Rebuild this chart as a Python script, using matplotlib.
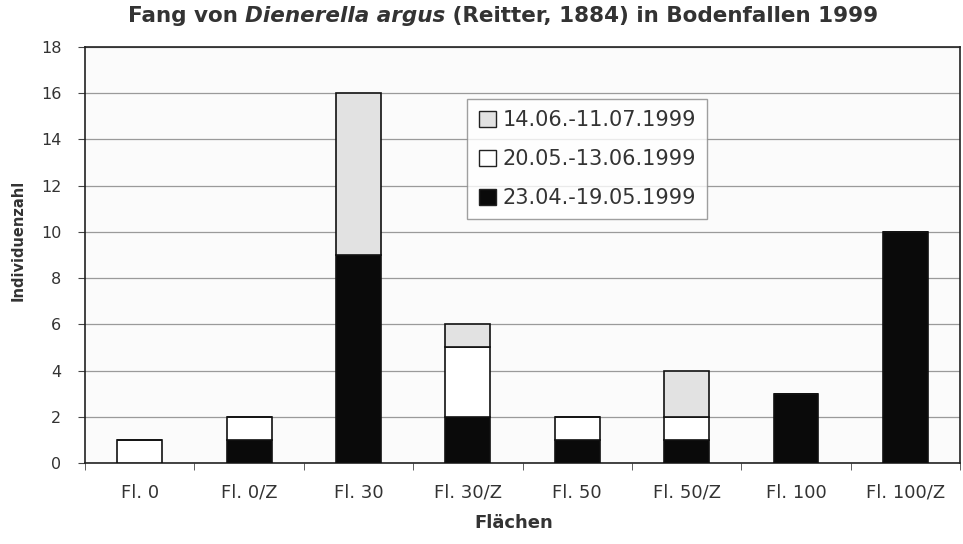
import matplotlib
matplotlib.use("Agg")
import matplotlib.pyplot as plt
from matplotlib.patches import Patch
import numpy as np

plt.rcParams['font.family'] = ['DejaVu Sans']

categories = ["Fl. 0", "Fl. 0/Z", "Fl. 30", "Fl. 30/Z", "Fl. 50", "Fl. 50/Z", "Fl. 100", "Fl. 100/Z"]
period1 = [0, 1, 9, 2, 1, 1, 3, 10]   # 23.04.-19.05.1999
period2 = [1, 1, 0, 3, 1, 1, 0, 0]    # 20.05.-13.06.1999
period3 = [0, 0, 7, 1, 0, 2, 0, 0]    # 14.06.-11.07.1999
labels = ["23.04.-19.05.1999", "20.05.-13.06.1999", "14.06.-11.07.1999"]
yticks = [0, 2, 4, 6, 8, 10, 12, 14, 16, 18]

fig = plt.figure(figsize=(9.63, 5.44), dpi=100)
ax = fig.add_axes([0.0883, 0.149, 0.9087, 0.7646])
ax.set_facecolor("#fbfbfb")

x = np.arange(len(categories))
w = 0.41
p1 = np.array(period1)
p2 = np.array(period2)
p3 = np.array(period3)
colors = ["#0a0a0a", "#ffffff", "#e2e2e2"]

ax.bar(x, p1, w, color=colors[0], edgecolor="#111111", linewidth=1.2, zorder=3)
ax.bar(x, p2, w, bottom=p1, color=colors[1], edgecolor="#111111", linewidth=1.2, zorder=3)
ax.bar(x, p3, w, bottom=p1 + p2, color=colors[2], edgecolor="#111111", linewidth=1.2, zorder=3)

ax.set_xlim(-0.5, len(categories) - 0.5)
ax.set_ylim(0, 18)
ax.set_yticks(yticks)
ax.set_yticklabels([str(v) for v in yticks], fontsize=11.5, color="#333333")
ax.set_xticks(x)
ax.set_xticklabels(categories, fontsize=13, color="#333333")
ax.set_xticks(np.arange(len(categories) + 1) - 0.5, minor=True)
ax.tick_params(axis="x", which="major", length=0, pad=15)
ax.tick_params(axis="x", which="minor", length=5, direction="out", color="#444444")
ax.tick_params(axis="y", length=5, direction="out", color="#444444", pad=12)
ax.grid(axis="y", color="#9a9a9a", linewidth=0.9, zorder=0)
for s in ax.spines.values():
    s.set_color("#222222")
    s.set_linewidth(1.2)

fig.text(18 / 963, 1 - 240 / 544, "Individuenzahl", rotation=90, fontsize=10.5,
         fontweight="bold", color="#333333", ha="center", va="center")
fig.text(514 / 963, 1 - 523 / 544, "Flächen", fontsize=13,
         fontweight="bold", color="#333333", ha="center", va="center")

handles = [Patch(facecolor=colors[2], edgecolor="#222222", linewidth=1.0),
           Patch(facecolor=colors[1], edgecolor="#222222", linewidth=1.0),
           Patch(facecolor=colors[0], edgecolor="#222222", linewidth=1.0)]
leg = ax.legend(handles, [labels[2], labels[1], labels[0]],
                loc="upper left", bbox_to_anchor=(0.437, 0.875),
                fontsize=15, frameon=True, fancybox=False,
                handlelength=0.82, handleheight=0.78, handletextpad=0.3,
                labelspacing=0.9, borderpad=0.55, borderaxespad=0,
                labelcolor="#333333")
leg.get_frame().set_edgecolor("#888888")
leg.get_frame().set_linewidth(1.0)
leg.get_frame().set_facecolor("#ffffff")
leg.set_zorder(5)

# Title built from three pieces so the species name can be italic
fig.canvas.draw()
renderer = fig.canvas.get_renderer()
parts = [("Fang von ", "normal"), ("Dienerella argus", "italic"), (" (Reitter, 1884) in Bodenfallen 1999", "normal")]
texts = []
for s, style in parts:
    t = fig.text(0, 1 - 22 / 544, s, fontsize=13, fontweight="bold", style=style,
                 color="#333333", va="baseline")
    texts.append(t)
fig.canvas.draw()
total = sum(t.get_window_extent(renderer).width for t in texts)
size = 13 * 750 / total
for t in texts:
    t.set_fontsize(size)
fig.canvas.draw()
widths = [t.get_window_extent(renderer).width for t in texts]
start = 503 - sum(widths) / 2
for t, wd in zip(texts, widths):
    t.set_x(start / fig.bbox.width)
    start += wd

fig.savefig("out.png", dpi=100)
